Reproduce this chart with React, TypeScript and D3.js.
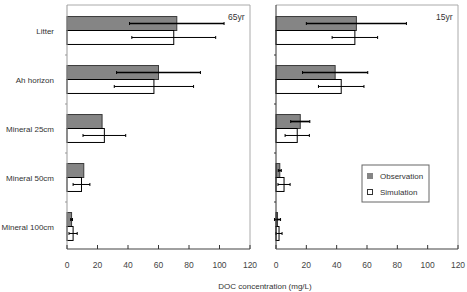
import * as d3 from "d3";

// DOC concentration by horizon, observed vs simulated, two stand ages
const categories = ["Litter", "Ah horizon", "Mineral 25cm", "Mineral 50cm", "Mineral 100cm"];

const obs65 = [72, 60, 23, 11, 3];
const obs65Err = [31, 27.5, 0, 0, 0.6];
const sim65 = [70, 57, 24.5, 9.5, 4];
const sim65Err = [27.5, 26, 14, 5.5, 2.7];

const obs15 = [53, 39, 16, 2.5, 1];
const obs15Err = [33, 21.5, 6.3, 1, 2];
const sim15 = [52, 43, 14, 5.3, 2];
const sim15Err = [15, 15, 8, 4, 2];

const xTicks = [0, 20, 40, 60, 80, 100, 120];

const W = 467;
const H = 292;
const TOP = 5;
const BOTTOM = 249;
const FONT = "'Liberation Sans', Arial, sans-serif";
const OBS_FILL = "#858585";

const y = d3
  .scaleBand<string>()
  .domain(categories)
  .range([6, 251])
  .paddingInner(0.43)
  .paddingOuter(0.215);

function ErrorBar({ x, v, e, cy, w }: { x: d3.ScaleLinear<number, number>; v: number; e: number; cy: number; w: number }) {
  if (!e) return null;
  const x0 = x(v - e);
  const x1 = x(v + e);
  return (
    <g stroke="#000" strokeWidth={w}>
      <line x1={x0} x2={x1} y1={cy} y2={cy} />
      <line x1={x0} x2={x0} y1={cy - 1.5} y2={cy + 1.5} strokeWidth={1} />
      <line x1={x1} x2={x1} y1={cy - 1.5} y2={cy + 1.5} strokeWidth={1} />
    </g>
  );
}

function Panel({
  left,
  right,
  obs,
  obsErr,
  sim,
  simErr,
  tag,
  axisColor,
}: {
  left: number;
  right: number;
  obs: number[];
  obsErr: number[];
  sim: number[];
  simErr: number[];
  tag: string;
  axisColor: string;
}) {
  const x = d3.scaleLinear().domain([0, 120]).range([left, right]);
  const bw = y.bandwidth() / 2;
  return (
    <g>
      {/* frame */}
      <line x1={left} x2={right} y1={TOP} y2={TOP} stroke="#aaa" />
      <line x1={right} x2={right} y1={TOP} y2={BOTTOM} stroke="#aaa" />
      {categories.map((c, i) => {
        const y0 = y(c)!;
        return (
          <g key={c}>
            <rect x={x(0)} y={y0} width={x(obs[i]) - x(0)} height={bw} fill={OBS_FILL} stroke="#3a3a3a" strokeWidth={1} />
            <rect x={x(0)} y={y0 + bw} width={x(sim[i]) - x(0)} height={bw} fill="#fff" stroke="#000" strokeWidth={1} />
            <ErrorBar x={x} v={obs[i]} e={obsErr[i]} cy={y0 + bw / 2} w={1.7} />
            <ErrorBar x={x} v={sim[i]} e={simErr[i]} cy={y0 + bw * 1.5} w={1} />
          </g>
        );
      })}
      {/* y axis with category separators */}
      <line x1={left} x2={left} y1={TOP} y2={BOTTOM} stroke={axisColor} />
      {categories.slice(1).map((c) => {
        const yy = y(c)! - (y.step() - y.bandwidth()) / 2;
        return <line key={c} x1={left - 2} x2={left} y1={yy} y2={yy} stroke={axisColor} />;
      })}
      {/* x axis */}
      <line x1={left} x2={right} y1={BOTTOM} y2={BOTTOM} stroke="#808080" strokeWidth={1.6} />
      {xTicks.map((t) => (
        <g key={t}>
          <line x1={x(t)} x2={x(t)} y1={BOTTOM - 4} y2={BOTTOM} stroke="#333" />
          <text x={x(t)} y={268} textAnchor="middle" fontSize={8.5} fill="#444">
            {t}
          </text>
        </g>
      ))}
      <text x={right - 22} y={20} fontSize={8.5} fill="#333">
        {tag}
      </text>
    </g>
  );
}

export default function App() {
  return (
    <svg
      width={W}
      height={H}
      style={{ position: "absolute", left: 0, top: 0, background: "#fff" }}
      fontFamily={FONT}
    >
      <rect width={W} height={H} fill="#fff" />
      {categories.map((c) => (
        <text key={c} x={54} y={y(c)! + y.bandwidth() / 2 + 3} textAnchor="end" fontSize={8} fill="#333">
          {c}
        </text>
      ))}
      <Panel left={67} right={250} obs={obs65} obsErr={obs65Err} sim={sim65} simErr={sim65Err} tag="65yr" axisColor="#999" />
      <Panel left={276} right={458} obs={obs15} obsErr={obs15Err} sim={sim15} simErr={sim15Err} tag="15yr" axisColor="#333" />

      {/* legend */}
      <rect x={362} y={165} width={67} height={37} fill="#fff" stroke="#666" />
      <rect x={367} y={173} width={6} height={6} fill={OBS_FILL} />
      <text x={380} y={179} fontSize={8} fill="#333">
        Observation
      </text>
      <rect x={367.5} y={189.5} width={5} height={5} fill="#fff" stroke="#333" />
      <text x={380} y={195} fontSize={8} fill="#333">
        Simulation
      </text>

      <text x={265} y={289} textAnchor="middle" fontSize={8} fill="#333">
        DOC concentration (mg/L)
      </text>
    </svg>
  );
}
